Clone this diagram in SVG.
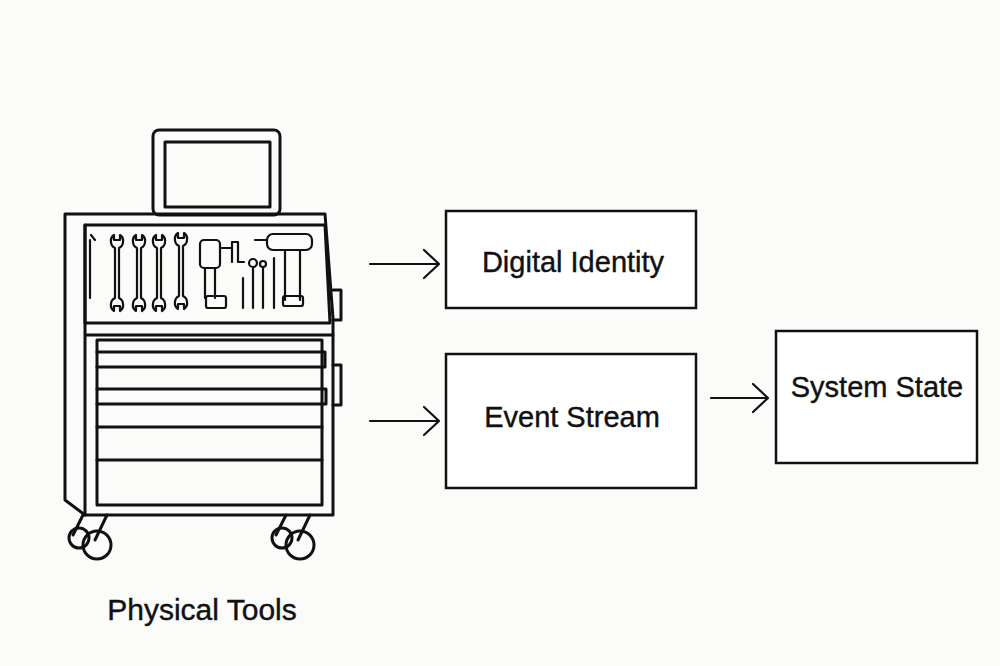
<svg xmlns="http://www.w3.org/2000/svg" width="1000" height="666" viewBox="0 0 1000 666">
<style>
.s{fill:none;stroke:#111;stroke-width:3;stroke-linejoin:round;stroke-linecap:round}
.t{stroke-width:2.2}
.box{fill:#fff;stroke:#111;stroke-width:2.5}
.lbl{font-family:"Liberation Sans",Arial,sans-serif;font-size:29px;fill:#111;text-anchor:middle;stroke:#111;stroke-width:0.4}
</style>
<defs>
<path id="wr" d="M-6,0 a7,7 0 0 1 3,-7 v5 h6 v-5 a7,7 0 0 1 3,7 q0,4 -4,6 v50 q4,2 4,6 a7,7 0 0 1 -3,7 v-5 h-6 v5 a7,7 0 0 1 -3,-7 q0,-4 4,-6 v-50 q-4,-2 -4,-6 z"/>
</defs>
<rect width="1000" height="666" fill="#fbfbfa"/>
<g id="cart" class="s">
  <rect x="153" y="130" width="127" height="85" rx="6"/>
  <rect x="165" y="142" width="105" height="65"/>
  <polygon points="65,214 325,214 333,318 333,515 85,515 65,500"/>
  <path d="M85,225 L325,225 L330,323 L85,323 Z"/>
  <path d="M85,225 L85,515 M85,335 L333,335"/>
  <rect x="97" y="340" width="225" height="165"/>
  <path d="M97,352 H325 V367 H97 M97,389 H326 V404 H97 M97,427 H322 M97,460 H322"/>
  <path d="M333,290 h8 v30 h-8 M333,365 h8 v40 h-8"/>
  <g class="t">
    <path d="M90,240 v58 M95,240 l-4,-5"/>
    <use href="#wr" x="117" y="242"/>
    <use href="#wr" x="139" y="242"/>
    <use href="#wr" x="159" y="242"/>
    <use href="#wr" x="181" y="240"/>
    <rect x="200" y="240" width="20" height="28" rx="4"/>
    <path d="M205,268 v30 M215,268 v30"/><rect x="206" y="296" width="20" height="12" rx="2"/>
    <path d="M220,248 h12 M232,242 v20 M238,242 v20 M232,242 h6 M238,262 h6"/>
    <path d="M243,278 v30 M253,268 v40 M263,268 v40 M274,258 v50"/>
    <circle cx="253" cy="263" r="4"/><circle cx="263" cy="264" r="3"/>
    <path d="M255,240 h12"/><rect x="267" y="234" width="45" height="16" rx="6"/>
    <path d="M285,250 v50 M300,250 v50"/><rect x="283" y="296" width="20" height="10" rx="2"/>
  </g>
  <circle cx="79" cy="538" r="10"/><circle cx="97" cy="545" r="14"/><path d="M83,515 l-10,20 M107,515 l-12,25"/>
  <circle cx="282" cy="538" r="10"/><circle cx="300" cy="545" r="14"/><path d="M286,515 l-10,20 M310,515 l-12,25"/>
</g>
<text class="lbl" x="202" y="620" style="font-size:30px">Physical Tools</text>
<g id="digital"><rect class="box" x="446" y="211" width="250" height="97"/><text class="lbl" x="573" y="272">Digital Identity</text></g>
<g id="event"><rect class="box" x="446" y="354" width="250" height="134"/><text class="lbl" x="572" y="427">Event Stream</text></g>
<g id="state"><rect class="box" x="776" y="331" width="201" height="132"/><text class="lbl" x="877" y="397">System State</text></g>
<g id="connectors" class="s" style="stroke-width:2.2">
  <path d="M370,264 H438 M424,250 L439,264 L424,278"/>
  <path d="M370,421 H438 M424,407 L439,421 L424,435"/>
  <path d="M711,398 H767 M753,384 L768,398 L753,412"/>
</g>
</svg>
